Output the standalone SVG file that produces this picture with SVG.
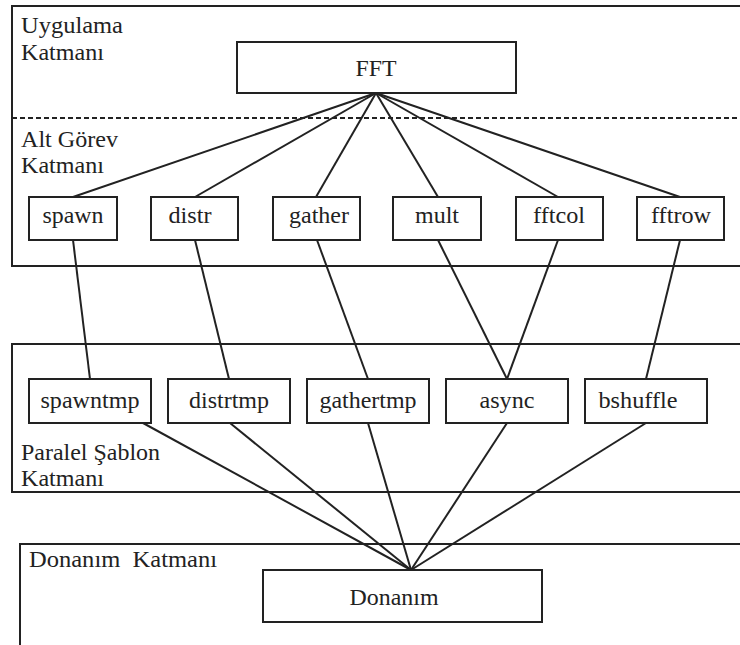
<svg xmlns="http://www.w3.org/2000/svg" width="740" height="645" viewBox="0 0 740 645">
<style>
.layer{fill:none;stroke:#222;stroke-width:2}
.box{fill:#fff;stroke:#222;stroke-width:2}
text{font-family:"Liberation Serif","DejaVu Serif","Times New Roman",serif;font-size:24px;fill:#222}
.c{text-anchor:middle}
.edge{stroke:#222;stroke-width:2;fill:none}
</style>
<rect width="740" height="645" fill="#fff"/>
<g id="layers">
<rect class="layer" x="12" y="6" width="760" height="260"/>
<line x1="12" y1="118" x2="740" y2="118" stroke="#222" stroke-width="2" stroke-dasharray="5,3"/>
<rect class="layer" x="12" y="344" width="760" height="148"/>
<rect class="layer" x="20" y="544" width="760" height="140"/>
<text x="21" y="33" textLength="102" lengthAdjust="spacingAndGlyphs">Uygulama</text>
<text x="21" y="60" textLength="83" lengthAdjust="spacingAndGlyphs">Katmanı</text>
<text x="21" y="147" textLength="97" lengthAdjust="spacingAndGlyphs">Alt Görev</text>
<text x="21" y="173" textLength="83" lengthAdjust="spacingAndGlyphs">Katmanı</text>
<text x="21" y="460" textLength="139" lengthAdjust="spacingAndGlyphs">Paralel Şablon</text>
<text x="21" y="486" textLength="83" lengthAdjust="spacingAndGlyphs">Katmanı</text>
<text x="29" y="567" xml:space="preserve" textLength="188" lengthAdjust="spacingAndGlyphs">Donanım  Katmanı</text>
</g>
<g id="connectors">
<line class="edge" x1="376" y1="93" x2="73" y2="197"/>
<line class="edge" x1="376" y1="93" x2="195" y2="197"/>
<line class="edge" x1="376" y1="93" x2="316" y2="197"/>
<line class="edge" x1="376" y1="93" x2="438" y2="197"/>
<line class="edge" x1="376" y1="93" x2="558" y2="197"/>
<line class="edge" x1="376" y1="93" x2="680" y2="197"/>
<line class="edge" x1="73" y1="240" x2="90" y2="379"/>
<line class="edge" x1="195" y1="240" x2="229" y2="379"/>
<line class="edge" x1="317" y1="240" x2="368" y2="379"/>
<line class="edge" x1="438" y1="240" x2="507" y2="379"/>
<line class="edge" x1="558" y1="240" x2="507" y2="379"/>
<line class="edge" x1="680" y1="240" x2="646" y2="379"/>
<line class="edge" x1="143" y1="423" x2="411" y2="570"/>
<line class="edge" x1="230" y1="423" x2="411" y2="570"/>
<line class="edge" x1="368" y1="423" x2="411" y2="570"/>
<line class="edge" x1="507" y1="423" x2="411" y2="570"/>
<line class="edge" x1="646" y1="423" x2="411" y2="570"/>
</g>
<g id="FFT"><rect class="box" x="237" y="42" width="279" height="51"/><text class="c" x="376" y="76" textLength="41" lengthAdjust="spacingAndGlyphs">FFT</text></g>
<g id="spawn"><rect class="box" x="29" y="197" width="88" height="43"/><text class="c" x="73" y="223" textLength="61" lengthAdjust="spacingAndGlyphs">spawn</text></g>
<g id="distr"><rect class="box" x="151" y="197" width="87" height="43"/><text class="c" x="190" y="223" textLength="43" lengthAdjust="spacingAndGlyphs">distr</text></g>
<g id="gather"><rect class="box" x="273" y="197" width="87" height="43"/><text class="c" x="319" y="223" textLength="60" lengthAdjust="spacingAndGlyphs">gather</text></g>
<g id="mult"><rect class="box" x="393" y="197" width="88" height="43"/><text class="c" x="437" y="223" textLength="44" lengthAdjust="spacingAndGlyphs">mult</text></g>
<g id="fftcol"><rect class="box" x="516" y="197" width="87" height="43"/><text class="c" x="559" y="223" textLength="52" lengthAdjust="spacingAndGlyphs">fftcol</text></g>
<g id="fftrow"><rect class="box" x="637" y="197" width="87" height="43"/><text class="c" x="681" y="223" textLength="60" lengthAdjust="spacingAndGlyphs">fftrow</text></g>
<g id="spawntmp"><rect class="box" x="29" y="379" width="122" height="44"/><text class="c" x="90" y="408" textLength="99" lengthAdjust="spacingAndGlyphs">spawntmp</text></g>
<g id="distrtmp"><rect class="box" x="168" y="379" width="122" height="44"/><text class="c" x="229" y="408" textLength="80" lengthAdjust="spacingAndGlyphs">distrtmp</text></g>
<g id="gathertmp"><rect class="box" x="307" y="379" width="122" height="44"/><text class="c" x="368" y="408" textLength="97" lengthAdjust="spacingAndGlyphs">gathertmp</text></g>
<g id="async"><rect class="box" x="446" y="379" width="122" height="44"/><text class="c" x="507" y="408" textLength="55" lengthAdjust="spacingAndGlyphs">async</text></g>
<g id="bshuffle"><rect class="box" x="585" y="379" width="122" height="44"/><text class="c" x="638" y="408" textLength="79" lengthAdjust="spacingAndGlyphs">bshuffle</text></g>
<g id="Donanim"><rect class="box" x="263" y="570" width="279" height="52"/><text class="c" x="394" y="605" textLength="89" lengthAdjust="spacingAndGlyphs">Donanım</text></g>
</svg>
